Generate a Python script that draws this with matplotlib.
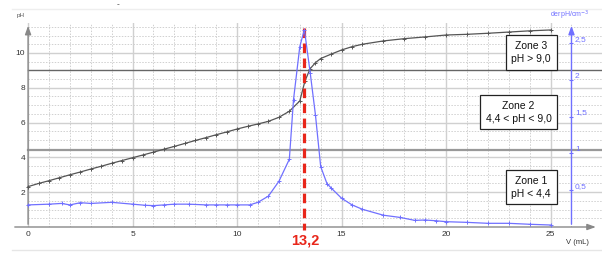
import matplotlib
matplotlib.use("Agg")
import matplotlib.pyplot as plt
from matplotlib.ticker import FixedLocator

plt.rcParams['font.family'] = ['Liberation Sans', 'DejaVu Sans']

# ---- data ----
V_ph = [0, 0.5, 1, 1.5, 2, 2.5, 3, 3.5, 4, 4.5, 5, 5.5, 6, 6.5, 7, 7.5, 8, 8.5, 9, 9.5,
        10, 10.5, 11, 11.5, 12, 12.5, 13, 13.25, 13.5, 13.75, 14, 14.5, 15, 15.5, 16,
        17, 18, 19, 20, 21, 22, 23, 24, 25]
pH = [2.32, 2.50, 2.66, 2.83, 3.00, 3.16, 3.33, 3.49, 3.66, 3.82, 3.98, 4.14, 4.30, 4.47,
      4.63, 4.80, 4.97, 5.13, 5.30, 5.46, 5.63, 5.78, 5.92, 6.07, 6.30, 6.65, 7.24, 8.40,
      9.10, 9.44, 9.68, 9.93, 10.17, 10.36, 10.50, 10.69, 10.82, 10.92, 11.03, 11.07,
      11.13, 11.20, 11.27, 11.32]

V_d = [0, 1, 1.6, 2, 2.5, 3, 4, 5, 5.6, 6, 6.5, 7, 7.7, 8.5, 9, 9.5, 10, 10.6, 11, 11.5,
       12, 12.5, 12.7, 13.0, 13.22, 13.5, 13.75, 14, 14.3, 14.5, 15, 15.5, 16, 17, 17.8,
       18.5, 19, 19.5, 20, 21, 22, 23, 24, 25]
dpH = [0.30, 0.31, 0.32, 0.30, 0.33, 0.32, 0.335, 0.31, 0.295, 0.29, 0.30, 0.31, 0.31,
       0.30, 0.30, 0.30, 0.30, 0.30, 0.335, 0.42, 0.62, 0.92, 1.73, 2.45, 2.68, 2.09, 1.52,
       0.82, 0.59, 0.53, 0.39, 0.30, 0.24, 0.16, 0.13, 0.09, 0.095, 0.085, 0.072, 0.063,
       0.05, 0.05, 0.037, 0.027]

x_ticks = [0, 5, 10, 15, 20, 25]
ph_ticks = [2, 4, 6, 8, 10]
d_ticks = [0.5, 1, 1.5, 2, 2.5]
d_labels = ["0,5", "1", "1,5", "2", "2,5"]
zone_levels = [9.0, 4.4]
zones = [("Zone 3\npH > 9,0", 24.07, 10.03),
         ("Zone 2\n4,4 < pH < 9,0", 23.47, 6.59),
         ("Zone 1\npH < 4,4", 24.07, 2.29)]
V_eq = 13.2
eq_label = "13,2"

# ---- figure ----
W, H = 602, 257
fig = plt.figure(figsize=(W / 100, H / 100), dpi=100)
ax = fig.add_axes([12 / W, 30 / H, 590 / W, 204 / H])
XMIN, XMAX = -0.77, 27.46
YMAX = 11.72
ax.set_xlim(XMIN, XMAX)
ax.set_ylim(0, YMAX)
DMAX = 2.77
XR = 26.0  # position of derivative axis

for s in ax.spines.values():
    s.set_visible(False)
ax.spines['left'].set_visible(True)
ax.spines['left'].set_position(('data', 0))
ax.spines['left'].set_color('none')

grid_c = '#d0d0d0'
for v in range(0, 27):
    if v % 5:
        ax.plot([v, v], [0, YMAX], color=grid_c, lw=0.7, ls=(0, (1.5, 1.5)), zorder=0)
    else:
        ax.plot([v, v], [0, YMAX], color=grid_c, lw=1.0, zorder=0)
y = 0.5
while y < YMAX:
    if abs(y - round(y)) < 1e-6 and int(round(y)) % 2 == 0:
        ax.plot([0, XMAX], [y, y], color=grid_c, lw=1.0, zorder=0)
    else:
        ax.plot([0, XMAX], [y, y], color=grid_c, lw=0.7, ls=(0, (1.5, 1.5)), zorder=0)
    y += 0.5

# zone lines
ax.plot([0, XMAX], [zone_levels[0]] * 2, color='#666666', lw=1.0, zorder=1)
ax.plot([0, XMAX], [zone_levels[1]] * 2, color='#999999', lw=1.6, zorder=1)

# axes lines with arrows
arrow = '-|>,head_length=0.5,head_width=0.18'
ax.annotate('', xy=(0, YMAX), xytext=(0, 0),
            arrowprops=dict(arrowstyle=arrow, color='#888888', lw=1.0), annotation_clip=False)
ax.annotate('', xy=(27.3, 0), xytext=(XMIN, 0),
            arrowprops=dict(arrowstyle=arrow, color='#888888', lw=1.0), annotation_clip=False)
ax.annotate('', xy=(XR, YMAX), xytext=(XR, 0),
            arrowprops=dict(arrowstyle=arrow, color='#7070ff', lw=1.0), annotation_clip=False)

# ticks
ax.set_xticks(x_ticks)
ax.set_yticks(ph_ticks)
ax.tick_params(axis='both', length=0, labelsize=6, colors='#333333', pad=3)
ax.tick_params(axis='y', pad=2)

# pH curve
ax.plot(V_ph, pH, color='#555555', lw=0.9, marker='+', ms=2.5, mew=0.7, zorder=3)

# derivative curve on twin axis
ax2 = ax.twinx()
ax2.set_ylim(0, DMAX)
for s in ax2.spines.values():
    s.set_visible(False)
ax2.spines['right'].set_visible(True)
ax2.spines['right'].set_position(('data', XR))
ax2.spines['right'].set_color('none')
ax2.plot(V_d, dpH, color='#7070ff', lw=0.9, marker='+', ms=2.5, mew=0.7, zorder=3)
ax2.yaxis.set_major_locator(FixedLocator(d_ticks))
ax2.set_yticklabels(d_labels)
ax2.tick_params(axis='y', direction='inout', length=3, width=0.8, labelsize=6,
                colors='#7070ff', pad=1)
for lab in ax2.get_yticklabels():
    lab.set_verticalalignment('bottom')

# equivalence line
ax.plot([V_eq, V_eq], [11.46, -0.17], color='#e8261a', lw=2.3, ls=(0, (3, 1.7)),
        clip_on=False, zorder=5)
ax.text(V_eq + 0.05, -0.8, eq_label, color='#e8261a', fontsize=10.5, fontweight='bold',
        ha='center', va='center', clip_on=False)

# zone boxes
for txt, zx, zy in zones:
    ax.text(zx, zy, txt, fontsize=7.5, ha='center', va='center', linespacing=1.35,
            color='#111111', zorder=6,
            bbox=dict(boxstyle='square,pad=0.55', fc='white', ec='#222222', lw=0.9))

# labels
fig.text(21 / W, 1 - 15 / H, 'pH', fontsize=4.5, color='#555555', ha='center', va='center')
fig.text(570 / W, 1 - 15 / H, 'derpH/cm$^{-3}$', fontsize=5, color='#7070ff',
         ha='center', va='center')
fig.text(577 / W, 1 - 243 / H, 'V (mL)', fontsize=5.5, color='#333333', ha='center', va='center')
fig.text(118 / W, 1 - 5 / H, '-', fontsize=6, color='#333333', ha='center', va='center')

# faint frame lines
fig.add_artist(plt.Line2D([12 / W, 1], [1 - 9 / H] * 2, color='#eeeeee', lw=1.0))
fig.add_artist(plt.Line2D([12 / W, 1], [1 - 250 / H] * 2, color='#e6e6e6', lw=1.0))

fig.savefig('out.png', dpi=100)
